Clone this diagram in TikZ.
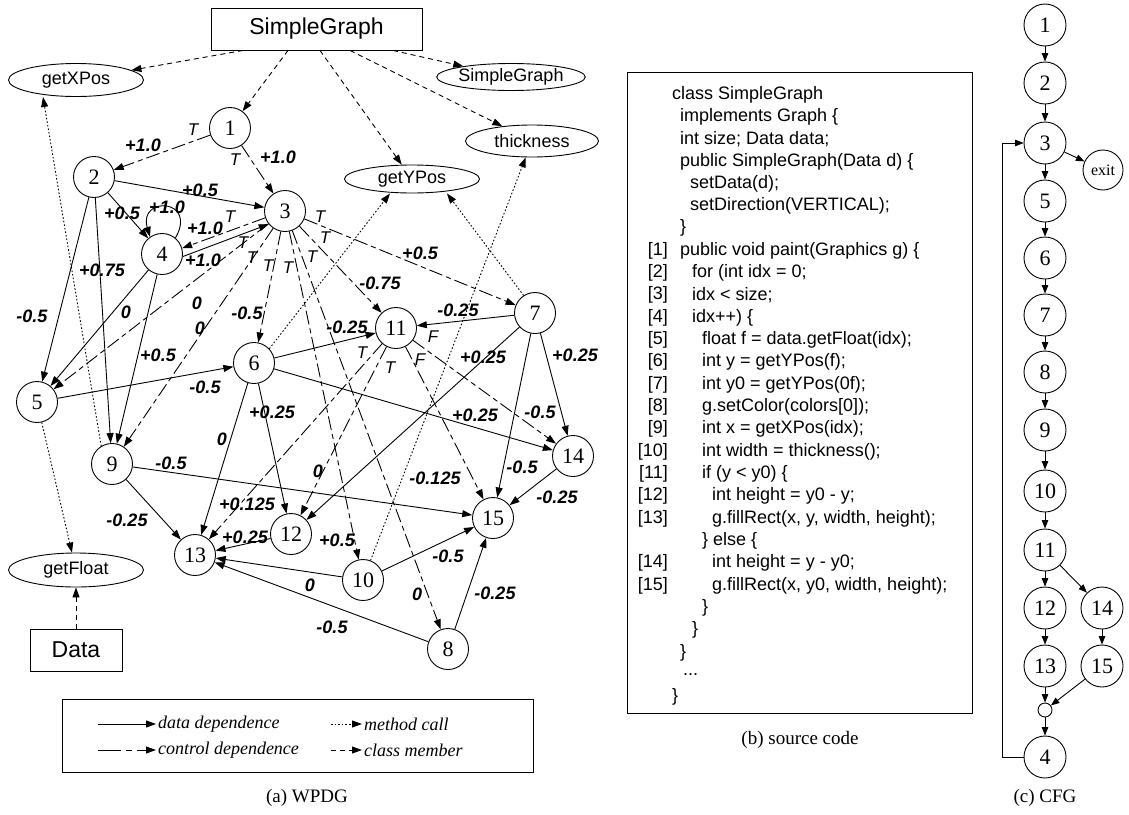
\documentclass[tikz,border=0pt]{standalone}
\usepackage{fontspec}
\setmainfont{Liberation Serif}
\setsansfont{Liberation Sans}
\usetikzlibrary{shapes.geometric,arrows.meta,calc}
\begin{document}
\begin{tikzpicture}[x=1pt,y=-1pt,
  every node/.style={inner sep=0pt},
  pn/.style={draw,circle,line width=0.9pt,minimum size=41pt,font=\fontsize{22}{22}\selectfont},
  cn/.style={draw,circle,line width=0.9pt,minimum size=42pt,font=\fontsize{22}{22}\selectfont},
  el/.style={draw,ellipse,line width=0.9pt,font=\sffamily\fontsize{18}{18}\selectfont},
  bx/.style={draw,rectangle,line width=0.9pt,font=\sffamily\fontsize{23}{23}\selectfont},
  wl/.style={font=\sffamily\bfseries\itshape\fontsize{18}{18}\selectfont},
  tl/.style={font=\sffamily\itshape\fontsize{17}{17}\selectfont},
  arr/.style={-{Triangle[length=10pt,width=7pt]},line width=0.9pt},
  data/.style={arr},
  ctrl/.style={arr,dash pattern=on 14pt off 4pt on 5pt off 4pt},
  call/.style={arr,dash pattern=on 1.6pt off 2pt},
  member/.style={arr,dash pattern=on 5pt off 4pt},
  cfg/.style={-{Triangle[length=8.5pt,width=6.5pt]},line width=0.9pt},
  code/.style={anchor=west,font=\sffamily\fontsize{18}{18}\selectfont},
  num/.style={anchor=east,font=\sffamily\fontsize{18}{18}\selectfont},
  legtxt/.style={anchor=west,font=\itshape\fontsize{18}{18}\selectfont},
  captxt/.style={font=\fontsize{19}{19}\selectfont}
]
\useasboundingbox (0,0) rectangle (1129,814);

% ---------------- WPDG ----------------
\node[bx,minimum width=211pt,minimum height=42pt] (sg) at (316.5,29) {SimpleGraph};
\node[el,minimum width=135pt,minimum height=33pt] (gx) at (76,80) {getXPos};
\node[el,minimum width=136pt,minimum height=27pt] (sge) at (511,77) {SimpleGraph};
\node[el,minimum width=133pt,minimum height=32pt] (th) at (532,141) {thickness};
\node[el,minimum width=135pt,minimum height=28pt] (gy) at (412,179) {getYPos};
\node[el,minimum width=135pt,minimum height=34pt] (gf) at (76,570) {getFloat};
\node[bx,minimum width=92pt,minimum height=42pt] (dt) at (76,650) {Data};

\node[pn] (p1) at (230,128) {1};
\node[pn] (p2) at (94,177) {2};
\node[pn] (p3) at (285,211) {3};
\node[pn] (p4) at (162,254) {4};
\node[pn] (p5) at (37,402) {5};
\node[pn] (p6) at (254,363) {6};
\node[pn] (p7) at (535,313) {7};
\node[pn] (p8) at (448,649) {8};
\node[pn] (p9) at (112,464) {9};
\node[pn] (p10) at (363,580) {10};
\node[pn] (p11) at (396,328) {11};
\node[pn] (p12) at (291,534) {12};
\node[pn] (p13) at (195,555) {13};
\node[pn] (p14) at (573,456) {14};
\node[pn] (p15) at (493,518) {15};

% class member
\draw[member] ([xshift=-73.5pt]sg.south) -- (gx);
\draw[member] ([xshift=-28.5pt]sg.south) -- (p1);
\draw[member] ([xshift=3.5pt]sg.south) -- (gy);
\draw[member] ([xshift=33.5pt]sg.south) -- (th);
\draw[member] ([xshift=76.5pt]sg.south) -- (sge);
\draw[member] (dt) -- (gf);

% method call
\draw[call] (p9.121) -- ([xshift=-33pt]gx.south);
\draw[call] (p5) -- (gf);
\draw[call] (p6.43) -- ([xshift=-22pt]gy.south);
\draw[call] (p7.123) -- ([xshift=35pt]gy.south);
\draw[call] (p10) -- (th);

% data dependence
\draw[data] (p2) -- (p3);
\draw[data] (p2) -- (p4);
\draw[data] (p2) -- (p5);
\draw[data] (p2) -- (p9);
\draw[data] (p4.-7) -- (p3.219);
\draw[data] (p4.50) .. controls (198,198) and (138,196) .. (p4.125);
\draw[data] (p4) -- (p5);
\draw[data] (p4) -- (p9);
\draw[data] (p5) -- (p6);
\draw[data] (p6) -- (p11);
\draw[data] (p6) -- (p12);
\draw[data] (p6) -- (p13);
\draw[data] (p6) -- (p14);
\draw[data] (p7) -- (p11);
\draw[data] (p7) -- (p12);
\draw[data] (p7) -- (p14);
\draw[data] (p7) -- (p15);
\draw[data] (p9) -- (p13);
\draw[data] (p9) -- (p15);
\draw[data] (p14) -- (p15);
\draw[data] (p12) -- (p13);
\draw[data] (p10) -- (p13);
\draw[data] (p10) -- (p15);
\draw[data] (p8) -- (p13);
\draw[data] (p8) -- (p15);

% control dependence
\draw[ctrl] (p1) -- (p2);
\draw[ctrl] (p1) -- (p3);
\draw[ctrl] (p3.199) -- (p4.16);
\draw[ctrl] (p3) -- (p5);
\draw[ctrl] (p3) -- (p9);
\draw[ctrl] (p3) -- (p6);
\draw[ctrl] (p3) -- (p10);
\draw[ctrl] (p3) -- (p8);
\draw[ctrl] (p3) -- (p11);
\draw[ctrl] (p3) -- (p7);
\draw[ctrl] (p11) -- (p12);
\draw[ctrl] (p11) -- (p13);
\draw[ctrl] (p11) -- (p15);
\draw[ctrl] (p11) -- (p14);

% labels
\node[tl] (t12) at (193,130) {T};
\node[wl] (w12) at (143,145) {+1.0};
\node[tl] (t13) at (235,160) {T};
\node[wl] (w13) at (278,157) {+1.0};
\node[wl] (w23) at (200,190) {+0.5};
\node[wl] (w24) at (122,213) {+0.5};
\node[wl] (w44) at (167,207) {+1.0};
\node[tl] (t34) at (230,217) {T};
\node[wl] (w34) at (205,228) {+1.0};
\node[wl] (w43) at (203,260) {+1.0};
\node[tl] (t35) at (243,243) {T};
\node[wl] (w35) at (197,303) {0};
\node[tl] (t39) at (252,258) {T};
\node[wl] (w39) at (200,328) {0};
\node[tl] (t36) at (268,266) {T};
\node[wl] (w36) at (247,313) {-0.5};
\node[tl] (t310) at (288,268) {T};
\node[wl] (w310) at (337,540) {+0.5};
\node[tl] (t38) at (312,257) {T};
\node[wl] (w38) at (417,594) {0};
\node[tl] (t311) at (325,238) {T};
\node[wl] (w311) at (380,283) {-0.75};
\node[tl] (t37) at (320,217) {T};
\node[wl] (w37) at (420,253) {+0.5};
\node[wl] (w25) at (32,316) {-0.5};
\node[wl] (w29) at (102,270) {+0.75};
\node[wl] (w45) at (126,312) {0};
\node[wl] (w49) at (158,355) {+0.5};
\node[wl] (w56) at (205,387) {-0.5};
\node[wl] (w611) at (347,327) {-0.25};
\node[wl] (w612) at (272,412) {+0.25};
\node[wl] (w613) at (222,439) {0};
\node[wl] (w614) at (475,415) {+0.25};
\node[wl] (w711) at (458,310) {-0.25};
\node[wl] (w712) at (483,357) {+0.25};
\node[wl] (w714) at (575,355) {+0.25};
\node[wl] (w715) at (522,467) {-0.5};
\node[tl] (t1114) at (433,337) {F};
\node[wl] (w1114) at (540,412) {-0.5};
\node[tl] (t1115) at (420,360) {F};
\node[wl] (w1115) at (435,478) {-0.125};
\node[tl] (t1112) at (390,368) {T};
\node[wl] (w1112) at (318,471) {0};
\node[tl] (t1113) at (362,353) {T};
\node[wl] (w1113) at (247,504) {+0.125};
\node[wl] (w915) at (171,463) {-0.5};
\node[wl] (w913) at (127,520) {-0.25};
\node[wl] (w1415) at (557,497) {-0.25};
\node[wl] (w1213) at (245,537) {+0.25};
\node[wl] (w1013) at (310,585) {0};
\node[wl] (w1015) at (448,556) {-0.5};
\node[wl] (w813) at (332,627) {-0.5};
\node[wl] (w815) at (495,593) {-0.25};

% legend
\node[draw,line width=0.9pt,minimum width=471pt,minimum height=73pt] (legbox) at (297.5,736) {};
\node[legtxt] (lg1) at (158,724) {data dependence};
\node[legtxt] (lg2) at (158,750) {control dependence};
\node[legtxt] (lg3) at (364,724) {method call};
\node[legtxt] (lg4) at (364,750) {class member};
\coordinate (ls1) at (98,724);
\coordinate (ls2) at (98,750);
\coordinate (ls3) at (331,724);
\coordinate (ls4) at (331,750);
\draw[data] (ls1) -- ([xshift=-2pt]lg1.west);
\draw[arr,dash pattern=on 23pt off 5pt on 6pt off 5pt] (ls2) -- ([xshift=-2pt]lg2.west);
\draw[call] (ls3) -- ([xshift=-2pt]lg3.west);
\draw[member] (ls4) -- ([xshift=-2pt]lg4.west);
\node[captxt] (capa) at (307,798) {(a) WPDG};

% ---------------- source code ----------------
\node[draw,line width=0.9pt,minimum width=345pt,minimum height=641pt] (codebox) at (799.5,392.5) {};
\node[code] (l1) at (672,94.4) {class SimpleGraph};
\node[code] (l2) at (680,116.7) {implements Graph \{};
\node[code] (l3) at (680,139.0) {int size; Data data;};
\node[code] (l4) at (680,161.4) {public SimpleGraph(Data d) \{};
\node[code] (l5) at (690,183.7) {setData(d);};
\node[code] (l6) at (690,206.0) {setDirection(VERTICAL);};
\node[code] (l7) at (680,228.3) {\}};
\node[num] (n1) at (668,250.6) {[1]};
\node[code] (l8) at (680,250.6) {public void paint(Graphics g) \{};
\node[num] (n2) at (668,273.0) {[2]};
\node[code] (l9) at (692,273.0) {for (int idx = 0;};
\node[num] (n3) at (668,295.3) {[3]};
\node[code] (l10) at (692,295.3) {idx < size;};
\node[num] (n4) at (668,317.6) {[4]};
\node[code] (l11) at (692,317.6) {idx++) \{};
\node[num] (n5) at (668,339.9) {[5]};
\node[code] (l12) at (702,339.9) {float f = data.getFloat(idx);};
\node[num] (n6) at (668,362.2) {[6]};
\node[code] (l13) at (702,362.2) {int y = getYPos(f);};
\node[num] (n7) at (668,384.6) {[7]};
\node[code] (l14) at (702,384.6) {int y0 = getYPos(0f);};
\node[num] (n8) at (668,406.9) {[8]};
\node[code] (l15) at (702,406.9) {g.setColor(colors[0]);};
\node[num] (n9) at (668,429.2) {[9]};
\node[code] (l16) at (702,429.2) {int x = getXPos(idx);};
\node[num] (n10) at (668,451.5) {[10]};
\node[code] (l17) at (702,451.5) {int width = thickness();};
\node[num] (n11) at (668,473.8) {[11]};
\node[code] (l18) at (702,473.8) {if (y < y0) \{};
\node[num] (n12) at (668,496.2) {[12]};
\node[code] (l19) at (712,496.2) {int height = y0 - y;};
\node[num] (n13) at (668,518.5) {[13]};
\node[code] (l20) at (712,518.5) {g.fillRect(x, y, width, height);};
\node[code] (l21) at (702,540.8) {\} else \{};
\node[num] (n14) at (668,563.1) {[14]};
\node[code] (l22) at (712,563.1) {int height = y - y0;};
\node[num] (n15) at (668,585.4) {[15]};
\node[code] (l23) at (712,585.4) {g.fillRect(x, y0, width, height);};
\node[code] (l24) at (702,607.8) {\}};
\node[code] (l25) at (692,630.1) {\}};
\node[code] (l26) at (680,652.4) {\}};
\node[code] (l27) at (683,674.7) {...};
\node[code] (l28) at (672,697.0) {\}};
\node[captxt] (capb) at (800,740) {(b) source code};

% ---------------- CFG ----------------
\node[cn] (c1) at (1045,25) {1};
\node[cn] (c2) at (1045,83) {2};
\node[cn] (c3) at (1045,143) {3};
\node[draw,circle,line width=0.9pt,minimum size=40pt,font=\fontsize{16}{16}\selectfont] (cx) at (1103,170) {exit};
\node[cn] (c5) at (1045,201) {5};
\node[cn] (c6) at (1045,258) {6};
\node[cn] (c7) at (1045,315) {7};
\node[cn] (c8) at (1045,372) {8};
\node[cn] (c9) at (1045,430) {9};
\node[cn] (c10) at (1045,491) {10};
\node[cn] (c11) at (1045,550) {11};
\node[cn] (c12) at (1045,608) {12};
\node[cn] (c14) at (1102,608) {14};
\node[cn] (c13) at (1045,666) {13};
\node[cn] (c15) at (1102,666) {15};
\node[draw,circle,line width=0.9pt,minimum size=14pt] (cs) at (1045,710) {};
\node[cn] (c4) at (1045,757) {4};
\draw[cfg] (c1) -- (c2);
\draw[cfg] (c2) -- (c3);
\draw[cfg] (c3) -- (cx);
\draw[cfg] (c3) -- (c5);
\draw[cfg] (c5) -- (c6);
\draw[cfg] (c6) -- (c7);
\draw[cfg] (c7) -- (c8);
\draw[cfg] (c8) -- (c9);
\draw[cfg] (c9) -- (c10);
\draw[cfg] (c10) -- (c11);
\draw[cfg] (c11) -- (c12);
\draw[cfg] (c11) -- (c14);
\draw[cfg] (c12) -- (c13);
\draw[cfg] (c14) -- (c15);
\draw[cfg] (c13) -- (cs);
\draw[cfg] (c15) -- (cs);
\draw[cfg] (cs) -- (c4);
\draw[cfg] (c4.west) -- ++(-21,0) |- (c3.west);
\node[captxt] (capc) at (1045,798) {(c) CFG};
\end{tikzpicture}
\end{document}
